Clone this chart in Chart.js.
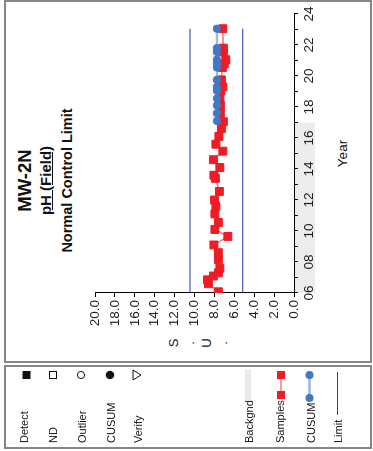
<!DOCTYPE html>
<html>
<head>
<meta charset="utf-8">
<script src="https://cdn.jsdelivr.net/npm/chart.js@4.4.1/dist/chart.umd.min.js"></script>
<style>
html, body { margin: 0; padding: 0; background: #fff; }
body { width: 373px; height: 451px; overflow: hidden; position: relative; font-family: "Liberation Sans", Arial, sans-serif; }
/* chart is laid out unrotated, then turned a quarter turn like the original print */
#frame { position: absolute; left: 0; top: 0; width: 451px; height: 373px; transform-origin: 0 0; transform: translateY(451px) rotate(-90deg); }
.box { position: absolute; border: 2px solid #868686; box-sizing: border-box; }
#main { left: 88px; top: 4px; width: 363px; height: 368px; }
#leg { left: 2px; top: 4px; width: 84px; height: 368px; }
#c { position: absolute; left: 0; top: 0; }
#sym { position: absolute; left: 0; top: 0; }
.t { position: absolute; white-space: nowrap; color: #111; line-height: 1; }
.b { font-weight: bold; }
.lg { font-size: 11px; left: 8px; }
</style>
</head>
<body>
<div id="frame">
  <div class="box" id="main"></div>
  <div class="box" id="leg"></div>

  <div class="t b" style="font-size:18.5px;left:89px;width:363px;text-align:center;top:16px;">MW-2N</div>
  <div class="t b" style="font-size:15px;left:89px;width:363px;text-align:center;top:38px;"><u>pH (Field)</u></div>
  <div class="t b" style="font-size:14.5px;left:89px;width:363px;text-align:center;top:60px;">Normal Control Limit</div>

  <div class="t" style="font-size:13px;left:98px;width:20px;text-align:center;top:166px;line-height:16.3px;">S<br>.<br>U<br>.</div>
  <div class="t" style="font-size:13.5px;left:158px;width:279px;text-align:center;top:336px;">Year</div>

  <canvas id="c" width="451" height="373"></canvas>

  <svg id="sym" width="451" height="373">
    <rect x="72" y="22.5" width="8" height="8" fill="#111"/>
    <rect x="72.5" y="49.5" width="7" height="7" fill="none" stroke="#111" stroke-width="1"/>
    <circle cx="76" cy="81" r="3.6" fill="none" stroke="#111" stroke-width="1"/>
    <circle cx="76" cy="110" r="4.2" fill="#111"/>
    <polygon points="71,133 81,133 76,141" fill="none" stroke="#111" stroke-width="1"/>
    <rect x="51" y="245" width="30" height="6" fill="#ebebec"/>
    <line x1="56" y1="281" x2="76" y2="281" stroke="#f27a80" stroke-width="1.5"/>
    <rect x="52" y="277" width="8" height="8" fill="#ee1c25"/>
    <rect x="72" y="277" width="8" height="8" fill="#ee1c25"/>
    <line x1="53" y1="309.5" x2="76" y2="309.5" stroke="#9bb5e0" stroke-width="2.5"/>
    <circle cx="53" cy="309.5" r="4" fill="#4577c2"/>
    <circle cx="76" cy="309.5" r="4" fill="#4577c2"/>
    <line x1="36" y1="337.5" x2="79" y2="337.5" stroke="#2b3d9b" stroke-width="1"/>
  </svg>

  <div class="t lg" style="top:19px;">Detect</div>
  <div class="t lg" style="top:48px;">ND</div>
  <div class="t lg" style="top:77px;">Outlier</div>
  <div class="t lg" style="top:106px;">CUSUM</div>
  <div class="t lg" style="top:133px;">Verify</div>
  <div class="t lg" style="top:244px;">Backgnd</div>
  <div class="t lg" style="top:275px;">Samples</div>
  <div class="t lg" style="top:306px;">CUSUM</div>
  <div class="t lg" style="top:333px;">Limit</div>
</div>

<script>
// sample dates as decimal years since 2000
const sampleYears = [6.08, 6.6, 6.85, 7.1, 7.3, 7.6, 8.15, 8.6, 9.1, 9.65,
  10.1, 10.55, 11.1, 11.6, 12.0, 12.55, 13.4, 13.6, 14.1, 14.6,
  15.15, 15.6, 16.1, 16.6, 17.05, 17.6, 18.1, 18.55, 19.05, 19.3,
  19.75, 20.55, 20.8, 21.05, 21.55, 21.8, 23.05];
const sampleVals = [7.6, 8.6, 8.7, 8.1, 7.6, 7.45, 7.6, 7.6, 8.05, 6.65,
  7.95, 7.6, 7.95, 7.85, 8.0, 7.5, 7.9, 8.05, 7.45, 8.1,
  7.15, 7.85, 7.55, 7.3, 7.1, 7.4, 7.4, 7.45, 7.35, 7.15,
  7.3, 7.2, 7.0, 6.85, 7.1, 7.1, 7.15];

const cusumYears = [17.1, 17.6, 18.1, 18.55, 19.05, 19.3, 19.75, 20.55, 20.8, 21.05, 21.55, 21.8, 23.05];
const cusumVals = [7.75, 7.75, 7.75, 7.75, 7.75, 7.75, 7.75, 7.75, 7.75, 7.75, 7.75, 7.75, 7.75];

const limitYears = [6, 23.05];
const upperLimit = 10.45;
const lowerLimit = 5.15;
const bgYears = [6, 17];

const yearLabel = v => (v % 2 === 0 ? String(v).padStart(2, '0') : '');
const suLabel = v => v.toFixed(1);

const pts = (xs, ys) => xs.map((x, i) => ({ x: x, y: ys[i] }));
const FONT = '"Liberation Sans", Arial, sans-serif';

const bgBand = {
  id: 'bgBand',
  beforeDraw(chart) {
    const { ctx, chartArea, scales } = chart;
    const x0 = scales.x.getPixelForValue(bgYears[0]);
    const x1 = scales.x.getPixelForValue(bgYears[1]);
    ctx.save();
    ctx.fillStyle = '#ececed';
    ctx.fillRect(x0, chartArea.bottom, x1 - x0, 21);
    ctx.restore();
  }
};

new Chart(document.getElementById('c'), {
  type: 'scatter',
  data: {
    datasets: [
      {
        label: 'CUSUM',
        data: pts(cusumYears, cusumVals),
        showLine: true,
        borderColor: 'rgba(110,150,215,0.65)',
        borderWidth: 2.5,
        pointStyle: 'circle',
        pointRadius: 3.7,
        pointBackgroundColor: '#4577c2',
        pointBorderColor: '#4577c2',
        pointBorderWidth: 1
      },
      {
        label: 'Samples',
        data: pts(sampleYears, sampleVals),
        showLine: true,
        borderColor: 'rgba(240,70,80,0.75)',
        borderWidth: 1.5,
        pointStyle: 'rect',
        pointRadius: 5.6,
        pointBackgroundColor: '#ee1c25',
        pointBorderColor: '#ee1c25',
        pointBorderWidth: 1
      },
      {
        label: 'Upper',
        data: pts(limitYears, [upperLimit, upperLimit]),
        showLine: true,
        borderColor: '#22349a',
        borderWidth: 1,
        pointRadius: 0
      },
      {
        label: 'Lower',
        data: pts(limitYears, [lowerLimit, lowerLimit]),
        showLine: true,
        borderColor: '#22349a',
        borderWidth: 1,
        pointRadius: 0
      }
    ]
  },
  options: {
    responsive: false,
    animation: false,
    layout: { padding: { left: 118, right: 14, top: 95, bottom: 54 } },
    plugins: { legend: { display: false }, tooltip: { enabled: false } },
    scales: {
      x: {
        type: 'linear',
        min: 6, max: 24,
        afterFit(s) { s.height = 25; },
        border: { display: true, color: '#000', width: 1 },
        grid: { drawOnChartArea: false, drawTicks: true, tickLength: 4, color: '#000' },
        ticks: { stepSize: 1, autoSkip: false, maxRotation: 0, padding: 3, color: '#222',
                 font: { family: FONT, size: 13.5 }, callback: yearLabel }
      },
      y: {
        min: 0, max: 20,
        afterFit(s) { s.width = 40; },
        border: { display: true, color: '#000', width: 1 },
        grid: { drawOnChartArea: false, drawTicks: true, tickLength: 4, color: '#000' },
        ticks: { stepSize: 2, padding: 3, color: '#222',
                 font: { family: FONT, size: 13.5 }, callback: suLabel }
      }
    }
  },
  plugins: [bgBand]
});
</script>
</body>
</html>
